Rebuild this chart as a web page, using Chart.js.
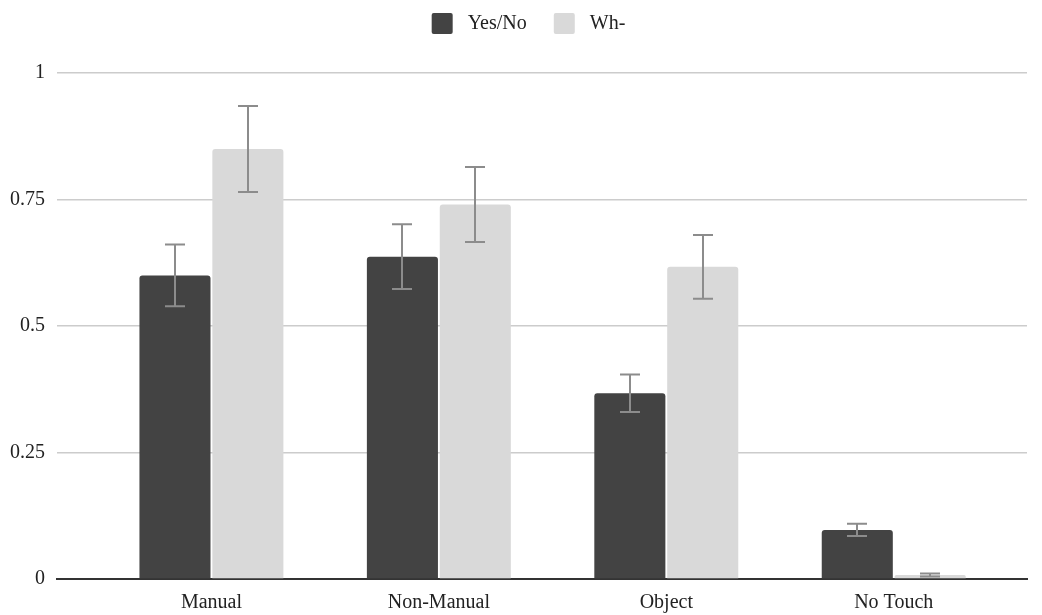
<!DOCTYPE html>
<html lang="en">
<head>
  <meta charset="UTF-8" />
  <title>Yes/No vs Wh- by touch type</title>
  <script src="https://cdn.jsdelivr.net/npm/chart.js"></script>
  <style>
    html, body { margin: 0; padding: 0; background: #fff; }
    #wrap { width: 1042px; height: 615px; }
  </style>
</head>
<body>
  <div id="wrap"><canvas id="chart"></canvas></div>

  <script>
    const categories = ['Manual', 'Non-Manual', 'Object', 'No Touch'];
    const yesNo = [0.60, 0.637, 0.367, 0.097];
    const yesNoErr = [0.061, 0.064, 0.037, 0.012];
    const wh = [0.85, 0.74, 0.617, 0.008];
    const whErr = [0.085, 0.074, 0.063, 0.003];
    const yTicks = [0, 0.25, 0.5, 0.75, 1];

    // draws the whiskers from the errors array of each dataset
    const errorBars = {
      id: 'errorBars',
      afterDatasetsDraw(chart) {
        const { ctx, scales: { y } } = chart;
        ctx.save();
        ctx.strokeStyle = '#8c8c8c';
        ctx.lineWidth = 2;
        chart.data.datasets.forEach((ds, i) => {
          chart.getDatasetMeta(i).data.forEach((bar, j) => {
            const v = ds.data[j].y;
            const hi = y.getPixelForValue(v + ds.errors[j]);
            const lo = y.getPixelForValue(v - ds.errors[j]);
            const x = Math.round(bar.x);
            ctx.beginPath();
            ctx.moveTo(x, hi); ctx.lineTo(x, lo);
            ctx.moveTo(x - 10, hi); ctx.lineTo(x + 10, hi);
            ctx.moveTo(x - 10, lo); ctx.lineTo(x + 10, lo);
            ctx.stroke();
          });
        });
        ctx.restore();
      }
    };

    // more room under the legend, and nudge it right like the original
    const legendSpace = {
      id: 'legendSpace',
      beforeInit(chart) {
        const fit = chart.legend.fit;
        chart.legend.fit = function () {
          fit.bind(chart.legend)();
          this.height += 29;
        };
      },
      afterLayout(chart) {
        chart.legend.left += 16;
        chart.legend.right += 16;
      }
    };

    Chart.defaults.font.family = '"Liberation Serif", "DejaVu Serif", serif';
    Chart.defaults.font.size = 20;
    Chart.defaults.color = '#222';

    const toPoints = arr => arr.map((v, i) => ({ x: i, y: v }));

    new Chart(document.getElementById('chart'), {
      type: 'bar',
      data: {
        datasets: [
          { label: 'Yes/No', data: toPoints(yesNo), errors: yesNoErr, backgroundColor: '#434343', borderRadius: 3 },
          { label: 'Wh-', data: toPoints(wh), errors: whErr, backgroundColor: '#d9d9d9', borderRadius: 3 }
        ]
      },
      options: {
        responsive: true,
        maintainAspectRatio: false,
        animation: false,
        categoryPercentage: 0.641,
        barPercentage: 0.975,
        layout: { padding: { left: -2, right: 15, top: -14, bottom: -12 } },
        plugins: {
          legend: {
            position: 'top',
            labels: {
              boxWidth: 21,
              boxHeight: 21,
              useBorderRadius: true,
              borderRadius: 2,
              padding: 27,
              font: { size: 20 },
              generateLabels: chart => Chart.defaults.plugins.legend.labels.generateLabels(chart)
                .map(item => Object.assign(item, { text: ' ' + item.text, strokeStyle: 'transparent', lineWidth: 0 }))
            }
          },
          tooltip: { enabled: false }
        },
        scales: {
          x: {
            type: 'linear',
            min: -0.679,
            max: 3.586,
            offset: false,
            afterBuildTicks: axis => { axis.ticks = categories.map((c, i) => ({ value: i })); },
            grid: { display: false, drawTicks: false },
            border: { color: '#333', width: 2 },
            ticks: { padding: 12, autoSkip: false, maxRotation: 0, callback: v => categories[v] }
          },
          y: {
            min: 0,
            max: 1,
            afterBuildTicks: axis => { axis.ticks = yTicks.map(v => ({ value: v })); },
            grid: { color: '#cccccc', lineWidth: 1.5, drawTicks: false },
            border: { display: false },
            ticks: { padding: 12, callback: v => String(v) }
          }
        }
      },
      plugins: [errorBars, legendSpace]
    });
  </script>
</body>
</html>
